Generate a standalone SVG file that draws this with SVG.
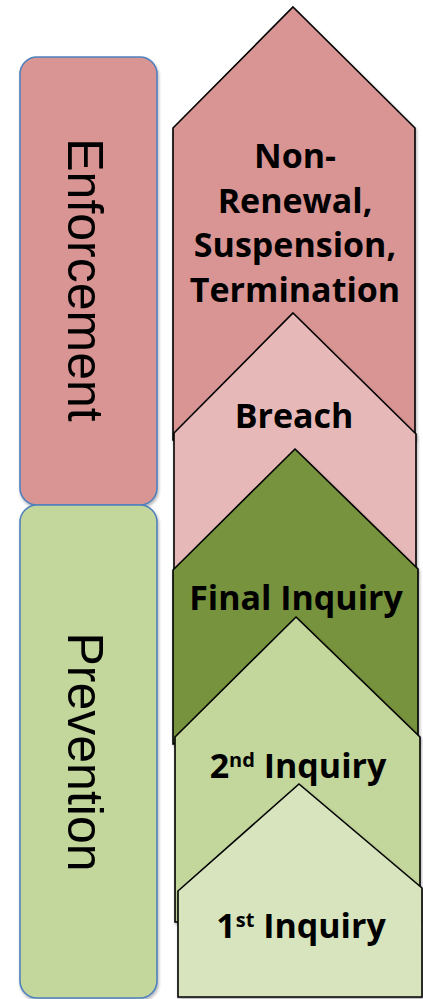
<svg xmlns="http://www.w3.org/2000/svg" width="423" height="999" viewBox="0 0 423 999">
<defs>
<filter id="sh" x="-10%" y="-10%" width="120%" height="120%">
<feDropShadow dx="1" dy="2" stdDeviation="1.5" flood-color="#000" flood-opacity="0.3"/>
</filter>
<style>
.side{stroke:#4f81bd;stroke-width:1.6;filter:url(#sh)}
.side-t{font-family:"Liberation Sans",Arial,sans-serif;font-size:50px;fill:#000;text-anchor:middle}
.step{stroke:#000;stroke-width:1.6;stroke-linejoin:miter;filter:url(#sh)}
.step-t{font-family:"Open Sans","DejaVu Sans",sans-serif;font-weight:700;font-size:34px;fill:#000;text-anchor:middle}
.sup{font-size:20px}
</style>
</defs>
<rect width="423" height="999" fill="#fff"/>
<g id="enforcement">
<rect class="side" x="20" y="57" width="137" height="448" rx="17" fill="#d99594"/>
<text class="side-t" transform="translate(68,280) rotate(90)">Enforcement</text>
</g>
<g id="prevention">
<rect class="side" x="20" y="505" width="137" height="493" rx="17" fill="#c3d69b"/>
<text class="side-t" transform="translate(68,752) rotate(90)">Prevention</text>
</g>
<g id="connectors"></g>
<g id="non-renewal">
<polygon class="step" points="293,7 415,128 415,440 173,440 173,128" fill="#d99594"/>
<text class="step-t" x="295" y="168">Non-</text>
<text class="step-t" x="295" y="213">Renewal,</text>
<text class="step-t" x="295" y="257">Suspension,</text>
<text class="step-t" x="295" y="302">Termination</text>
</g>
<g id="breach">
<polygon class="step" points="293,313 416,434 416,576 174,576 174,433" fill="#e6b9b8"/>
<text class="step-t" x="294" y="428">Breach</text>
</g>
<g id="final-inquiry">
<polygon class="step" points="295,449 418,569 418,744 173,744 173,570" fill="#77933c"/>
<text class="step-t" x="296" y="610">Final Inquiry</text>
</g>
<g id="second-inquiry">
<polygon class="step" points="296,617 420,737 420,922 175,922 175,737" fill="#c3d69b"/>
<text class="step-t" x="298" y="778">2<tspan class="sup" dy="-11">nd</tspan><tspan dy="11"> Inquiry</tspan></text>
</g>
<g id="first-inquiry">
<polygon class="step" points="299,784 422,888 422,997 178,997 178,891" fill="#d7e4bd"/>
<text class="step-t" x="301" y="938">1<tspan class="sup" dy="-11">st</tspan><tspan dy="11"> Inquiry</tspan></text>
</g>
</svg>
